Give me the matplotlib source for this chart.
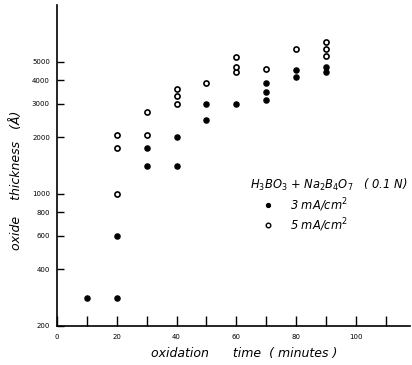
import numpy as np
import matplotlib.pyplot as plt
from matplotlib.ticker import NullLocator, FixedLocator

# data
t_3ma = [10, 20, 20, 30, 30, 40, 40, 50, 50, 60, 70, 70, 70, 80, 80, 90, 90]
d_3ma = [280, 280, 600, 1400, 1750, 1400, 2000, 2450, 3000, 3000, 3150, 3450, 3850, 4150, 4550, 4400, 4700]
t_5ma = [20, 20, 20, 30, 30, 40, 40, 40, 50, 60, 60, 60, 70, 80, 90, 90, 90]
d_5ma = [1000, 1750, 2050, 2050, 2700, 3000, 3300, 3600, 3850, 4400, 4700, 5300, 4600, 5850, 5400, 5850, 6350]

y_ticks = [200, 400, 600, 800, 1000, 2000, 3000, 4000, 5000]
x_major = [0, 20, 40, 60, 80, 100]
x_minor = [10, 30, 50, 70, 90, 110]

fig = plt.figure(figsize=(4.12, 3.65), dpi=100)
ax = fig.add_axes([0.138, 0.107, 0.857, 0.879])

ax.plot(t_3ma, d_3ma, 'o', ms=3.7, color='black', mec='black')
ax.plot(t_5ma, d_5ma, 'o', ms=3.7, mfc='white', mec='black', mew=1.2)

ax.set_yscale('log')
ax.set_ylim(200, 10000)
ax.set_xlim(0, 118)

ax.yaxis.set_major_locator(FixedLocator(y_ticks))
ax.yaxis.set_minor_locator(NullLocator())
ax.set_yticklabels([str(v) for v in y_ticks])
ax.set_xticks(x_major)
ax.set_xticklabels(['0', '20', '40', '60', '80', '100'])
ax.xaxis.set_minor_locator(FixedLocator(x_minor))

ax.tick_params(axis='y', direction='in', length=5, width=1, labelsize=5, pad=5)
ax.tick_params(axis='x', which='both', direction='in', length=7, width=1,
               labelsize=5, pad=6)
for s in ['top', 'right']:
    ax.spines[s].set_visible(False)
for s in ['left', 'bottom']:
    ax.spines[s].set_linewidth(1.2)

fig.text(244 / 412, 1 - 353 / 365, 'oxidation      time  ( minutes )',
         style='italic', fontsize=9, ha='center', va='center')
fig.text(17 / 412, 1 - 180 / 365, 'oxide    thickness   (Å)',
         style='italic', fontsize=9, ha='center', va='center', rotation=90)

# legend drawn as text
ax.text(0.77, 0.439, r'$H_3BO_3$ + $Na_2B_4O_7$   ( 0.1 N)', transform=ax.transAxes,
        style='italic', fontsize=8.3, ha='center', va='center')
ax.plot([0.598], [0.377], 'o', ms=2.8, color='black', transform=ax.transAxes)
ax.text(0.66, 0.377, '3 mA/cm$^2$', transform=ax.transAxes,
        style='italic', fontsize=8.3, va='center')
ax.plot([0.598], [0.315], 'o', ms=3.3, mfc='white', mec='black', mew=1,
        transform=ax.transAxes)
ax.text(0.66, 0.315, '5 mA/cm$^2$', transform=ax.transAxes,
        style='italic', fontsize=8.3, va='center')

fig.savefig('out.png', dpi=100)
